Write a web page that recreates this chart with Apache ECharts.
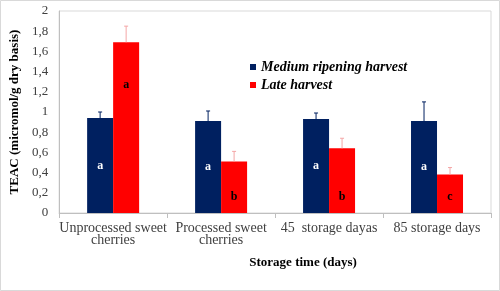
<!DOCTYPE html>
<html>
<head>
<meta charset="utf-8">
<script src="https://cdn.jsdelivr.net/npm/echarts@6/dist/echarts.min.js"></script>
<style>
  html, body { margin: 0; padding: 0; background: #fff; }
  #chart { width: 500px; height: 291px; }
</style>
</head>
<body>
<div id="chart"></div>
<script>
  // 数据
  var categories = ['Unprocessed sweet\ncherries', 'Processed sweet\ncherries', '45  storage dayas', '85 storage days'];
  var mediumValues = [0.94, 0.91, 0.93, 0.91];
  var mediumErrors = [0.06, 0.10, 0.06, 0.19];
  var lateValues = [1.69, 0.51, 0.64, 0.38];
  var lateErrors = [0.16, 0.10, 0.10, 0.07];
  var mediumLetters = ['a', 'a', 'a', 'a'];
  var lateLetters = ['a', 'b', 'b', 'c'];
  var yTicks = ['0', '0,2', '0,4', '0,6', '0,8', '1', '1,2', '1,4', '1,6', '1,8', '2'];

  var serif = "'Liberation Serif', 'DejaVu Serif', serif";
  var blue = '#002060';
  var red = '#ff0000';

  function errorSeries(values, errors, offset, color) {
    return {
      type: 'custom',
      silent: true,
      z: 5,
      data: values.map(function (v, i) { return [i, v, errors[i]]; }),
      renderItem: function (params, api) {
        var base = api.coord([api.value(0), api.value(1)]);
        var top = api.coord([api.value(0), api.value(1) + api.value(2)]);
        var x = base[0] + offset;
        var style = { stroke: color, lineWidth: 1 };
        return {
          type: 'group',
          children: [
            { type: 'line', shape: { x1: x, y1: base[1], x2: x, y2: top[1] }, style: style },
            { type: 'line', shape: { x1: x - 2, y1: top[1], x2: x + 2, y2: top[1] }, style: style }
          ]
        };
      }
    };
  }

  var option = {
    animation: false,
    backgroundColor: '#fff',
    graphic: [{
      type: 'rect',
      shape: { x: 0.5, y: 0.5, width: 499, height: 290 },
      style: { fill: 'none', stroke: '#d9d9d9', lineWidth: 1 },
      silent: true
    }],
    grid: {
      left: 54, right: 9, top: 11, bottom: 78,
      show: true, borderColor: '#d9d9d9', borderWidth: 1
    },
    legend: {
      orient: 'vertical',
      left: 245, top: 55,
      itemWidth: 6, itemHeight: 6, itemGap: 4,
      icon: 'rect',
      data: ['Medium ripening harvest', 'Late harvest'],
      textStyle: { fontFamily: serif, fontStyle: 'italic', fontWeight: 'bold', fontSize: 14, color: '#000' }
    },
    xAxis: {
      type: 'category',
      data: categories,
      name: 'Storage time (days)',
      nameLocation: 'middle',
      nameGap: 43,
      nameTextStyle: { fontFamily: serif, fontWeight: 'bold', fontSize: 13, color: '#000', padding: [0, 0, 0, 56] },
      axisLine: { lineStyle: { color: '#bfbfbf' } },
      axisTick: { show: true, length: 5, lineStyle: { color: '#bfbfbf' } },
      axisLabel: { fontFamily: serif, fontSize: 14, color: '#404040', margin: 9, lineHeight: 12, interval: 0 }
    },
    yAxis: {
      type: 'value',
      min: 0, max: 2, interval: 0.2,
      name: 'TEAC (micromol/g dry basis)',
      nameLocation: 'middle',
      nameGap: 37,
      nameTextStyle: { fontFamily: serif, fontWeight: 'bold', fontSize: 13, color: '#000' },
      axisLine: { show: true, lineStyle: { color: '#bfbfbf' } },
      axisTick: { show: false },
      splitLine: { show: false },
      axisLabel: {
        fontFamily: serif, fontSize: 13, color: '#404040', margin: 11,
        formatter: function (v) { return yTicks[Math.round(v / 0.2)]; }
      }
    },
    series: [
      {
        name: 'Medium ripening harvest',
        type: 'bar',
        barWidth: 26,
        barGap: '0%',
        itemStyle: { color: blue },
        label: {
          show: true, position: 'inside', color: '#fff',
          fontFamily: serif, fontWeight: 'bold', fontSize: 12,
          formatter: function (p) { return mediumLetters[p.dataIndex]; }
        },
        data: mediumValues
      },
      {
        name: 'Late harvest',
        type: 'bar',
        barWidth: 26,
        itemStyle: { color: red },
        label: {
          show: true, position: 'insideBottom', distance: 10, color: '#000',
          fontFamily: serif, fontWeight: 'bold', fontSize: 12,
          formatter: function (p) { return lateLetters[p.dataIndex]; }
        },
        data: lateValues.map(function (v, i) {
          if (i === 0) return { value: v, label: { position: ['50%', '25%'], align: 'center', verticalAlign: 'middle' } };
          return v;
        })
      },
      errorSeries(mediumValues, mediumErrors, -13, blue),
      errorSeries(lateValues, lateErrors, 13, '#f4a6a6')
    ]
  };

  var chart = echarts.init(document.getElementById('chart'));
  chart.setOption(option);
  window.addEventListener('resize', function () {
    chart.resize();
  });
</script>
</body>
</html>
